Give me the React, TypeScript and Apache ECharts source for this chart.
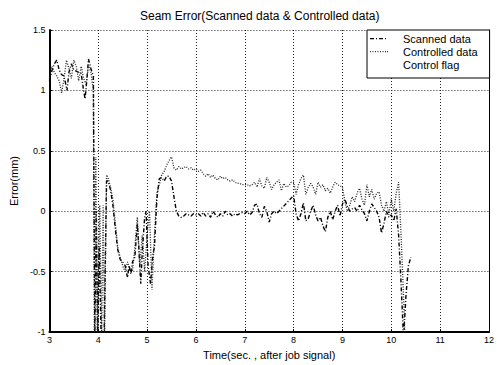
import React, { useEffect, useRef } from "react";
import * as echarts from "echarts";

const titleText = "Seam Error(Scanned data & Controlled data)";
const xName = "Time(sec. , after job signal)";
const yName = "Error(mm)";
const legendNames = ["Scanned data", "Controlled data", "Control flag"];

const scannedTime = [3.0, 3.05, 3.1, 3.15, 3.2, 3.25, 3.3, 3.36, 3.4, 3.45, 3.5, 3.55, 3.6, 3.65, 3.7, 3.73, 3.77, 3.8, 3.85, 3.9, 3.93, 3.96, 3.99, 4.02, 4.06, 4.12, 4.17, 4.2, 4.25, 4.3, 4.35, 4.4, 4.45, 4.5, 4.55, 4.6, 4.63, 4.67, 4.7, 4.75, 4.8, 4.83, 4.87, 4.9, 4.95, 4.98, 5.02, 5.07, 5.12, 5.15, 5.2, 5.25, 5.3, 5.35, 5.4, 5.45, 5.5, 5.55, 5.6, 5.65, 5.7, 5.75, 5.8, 5.85, 5.9, 5.95, 6.0, 6.05, 6.1, 6.15, 6.2, 6.25, 6.3, 6.35, 6.4, 6.45, 6.5, 6.55, 6.6, 6.65, 6.7, 6.75, 6.8, 6.85, 6.9, 6.95, 7.0, 7.05, 7.1, 7.15, 7.2, 7.25, 7.3, 7.35, 7.4, 7.45, 7.5, 7.55, 7.6, 7.65, 7.7, 8.0, 8.05, 8.1, 8.15, 8.2, 8.25, 8.3, 8.35, 8.4, 8.45, 8.5, 8.55, 8.6, 8.65, 8.7, 8.75, 8.8, 8.85, 8.9, 8.95, 9.0, 9.05, 9.1, 9.15, 9.2, 9.25, 9.3, 9.35, 9.4, 9.45, 9.5, 9.55, 9.6, 9.65, 9.7, 9.75, 9.8, 9.85, 9.9, 9.95, 10.0, 10.05, 10.1, 10.15, 10.2, 10.25, 10.3, 10.35, 10.4];
const scannedValue = [1.08, 1.16, 1.22, 1.25, 1.17, 1.13, 1.12, 1.0, 1.15, 1.22, 1.17, 1.16, 1.15, 1.14, 1.0, 0.93, 1.1, 1.26, 1.18, 1.12, -1.05, 0.0, -1.05, -0.3, -1.05, -1.05, 0.25, 0.25, 0.18, 0.05, -0.15, -0.32, -0.4, -0.42, -0.45, -0.55, -0.45, -0.52, -0.42, -0.38, -0.1, -0.3, -0.6, -0.35, -0.05, 0.0, -0.45, -0.6, -0.35, -0.3, 0.1, 0.27, 0.28, 0.25, 0.29, 0.29, 0.25, 0.12, 0.0, -0.04, -0.05, -0.04, -0.02, -0.03, -0.04, -0.02, -0.03, -0.02, -0.04, -0.01, -0.04, -0.02, -0.05, 0.0, -0.03, -0.05, -0.02, -0.04, 0.0, -0.03, -0.02, -0.04, -0.02, -0.03, -0.02, -0.01, -0.02, 0.0, -0.03, -0.01, 0.05, 0.06, -0.02, -0.05, 0.04, 0.0, -0.09, -0.02, 0.0, -0.02, 0.0, 0.13, -0.02, -0.08, -0.02, 0.07, -0.08, -0.06, 0.0, 0.05, -0.03, -0.08, -0.05, -0.12, -0.17, -0.05, 0.0, -0.07, 0.0, 0.05, -0.04, 0.06, 0.1, 0.04, 0.0, 0.02, 0.03, 0.0, 0.05, 0.01, -0.02, -0.08, 0.0, 0.06, 0.03, 0.0, -0.05, -0.18, -0.1, 0.0, -0.05, -0.03, -0.08, 0.02, -0.2, -0.6, -1.05, -0.7, -0.45, -0.38];

const controlledTime = [3.0, 3.05, 3.1, 3.15, 3.2, 3.25, 3.3, 3.35, 3.4, 3.45, 3.5, 3.55, 3.6, 3.65, 3.7, 3.75, 3.8, 3.85, 3.9, 3.92, 3.95, 3.98, 4.03, 4.07, 4.1, 4.13, 4.17, 4.2, 4.25, 4.3, 4.35, 4.4, 4.45, 4.5, 4.55, 4.6, 4.65, 4.7, 4.75, 4.8, 4.85, 4.9, 4.95, 5.0, 5.05, 5.1, 5.15, 5.2, 5.25, 5.3, 5.35, 5.4, 5.45, 5.5, 5.55, 5.6, 5.65, 5.7, 5.75, 5.8, 5.85, 5.9, 5.95, 6.0, 6.05, 6.1, 6.15, 6.2, 6.25, 6.3, 6.35, 6.4, 6.45, 6.5, 6.55, 6.6, 6.65, 6.7, 6.75, 6.8, 6.85, 6.9, 6.95, 7.0, 7.05, 7.1, 7.15, 7.2, 7.25, 7.3, 7.35, 7.4, 7.45, 7.5, 7.55, 7.6, 7.65, 7.7, 7.75, 7.8, 7.85, 7.9, 7.95, 8.0, 8.05, 8.1, 8.15, 8.2, 8.25, 8.3, 8.35, 8.4, 8.45, 8.5, 8.55, 8.6, 8.65, 8.7, 8.75, 8.8, 8.85, 8.9, 8.95, 9.0, 9.05, 9.1, 9.15, 9.2, 9.25, 9.3, 9.35, 9.4, 9.45, 9.5, 9.55, 9.6, 9.65, 9.7, 9.75, 9.8, 9.85, 9.9, 9.95, 10.0, 10.05, 10.1, 10.15, 10.2, 10.25, 10.28];
const controlledValue = [1.1, 1.2, 1.15, 1.12, 1.08, 0.98, 1.1, 1.25, 1.18, 1.1, 1.25, 1.2, 1.08, 1.2, 1.1, 1.05, 1.2, 1.15, 1.0, -1.05, 0.45, -1.05, 0.05, -1.05, 0.05, -1.05, 0.3, 0.28, 0.2, 0.1, -0.1, -0.3, -0.38, -0.45, -0.5, -0.42, -0.48, -0.5, -0.3, -0.05, -0.45, -0.2, -0.5, -0.2, 0.0, -0.65, -0.2, 0.15, 0.22, 0.3, 0.33, 0.38, 0.42, 0.45, 0.36, 0.34, 0.37, 0.35, 0.36, 0.37, 0.35, 0.36, 0.34, 0.35, 0.33, 0.34, 0.31, 0.29, 0.31, 0.28, 0.3, 0.27, 0.26, 0.29, 0.27, 0.28, 0.26, 0.25, 0.26, 0.24, 0.23, 0.23, 0.22, 0.22, 0.22, 0.21, 0.22, 0.24, 0.2, 0.27, 0.21, 0.19, 0.28, 0.24, 0.18, 0.22, 0.24, 0.26, 0.17, 0.23, 0.2, 0.21, 0.24, 0.24, 0.14, 0.22, 0.27, 0.3, 0.14, 0.2, 0.23, 0.2, 0.14, 0.24, 0.2, 0.22, 0.17, 0.19, 0.15, 0.2, 0.24, 0.22, 0.21, 0.2, 0.08, 0.0, 0.05, 0.12, 0.08, 0.15, 0.19, 0.1, 0.05, 0.22, 0.12, 0.18, 0.1, 0.15, 0.16, 0.05, 0.0, 0.08, -0.03, 0.1, 0.0, 0.15, 0.24, -0.2, -0.7, -1.05];

const flagTime: number[] = [];
const flagValue: number[] = [];

const zip = (t: number[], v: number[]) => t.map((x, i) => [x, v[i]]);

// legend icons: an invisible vertical stroke sets the 18x10 box, thin rects draw the pattern
const dashDotIcon = "path://M0,0L0,10M0,4.5h4v1.2h-4zM6,4.5h1v1.2h-1zM9,4.5h4v1.2h-4zM15,4.5h1v1.2h-1zM18,0L18,10";
const dottedIcon = "path://M0,0L0,10M0,4.5h1v1.2h-1zM2.5,4.5h1v1.2h-1zM5,4.5h1v1.2h-1zM7.5,4.5h1v1.2h-1zM10,4.5h1v1.2h-1zM12.5,4.5h1v1.2h-1zM15,4.5h1v1.2h-1zM17,4.5h1v1.2h-1zM18,0L18,10";

export default function App() {
  const ref = useRef<HTMLDivElement>(null);
  useEffect(() => {
    if (!ref.current) return;
    const chart = echarts.init(ref.current, null, { renderer: "svg" });
    const font = "Liberation Sans, Arial, sans-serif";
    chart.setOption({
      animation: false,
      backgroundColor: "#fff",
      textStyle: { fontFamily: font },
      title: {
        text: titleText,
        left: 140,
        top: 10,
        padding: 0,
        textStyle: { fontSize: 12, fontWeight: "normal", color: "#000", fontFamily: font },
      },
      legend: {
        data: [
          { name: legendNames[0], icon: dashDotIcon, itemStyle: { color: "#000" } },
          { name: legendNames[1], icon: dottedIcon, itemStyle: { color: "#333" } },
          { name: legendNames[2], icon: "rect", itemStyle: { color: "#fff", opacity: 0 } },
        ],
        orient: "vertical",
        left: 367,
        top: 30,
        backgroundColor: "#fff",
        borderColor: "#000",
        borderWidth: 1,
        padding: [3, 12, 8, 3],
        itemGap: 2,
        itemWidth: 18,
        itemHeight: 10,
        textStyle: { fontSize: 11, color: "#000", fontFamily: font, padding: [0, 0, 0, 10] },
      },
      grid: { left: 39, right: 2, top: 30, bottom: 25, containLabel: false },
      xAxis: {
        type: "value",
        min: 3,
        max: 12,
        interval: 1,
        name: xName,
        nameLocation: "middle",
        nameGap: 14,
        nameTextStyle: { fontSize: 11, color: "#000", fontFamily: font },
        axisLine: { onZero: false, lineStyle: { color: "#000", width: 2 } },
        axisTick: { inside: true, length: 3, lineStyle: { color: "#000" } },
        axisLabel: { fontSize: 9, color: "#000", margin: 3, fontFamily: font },
        splitLine: { show: true, lineStyle: { color: "#222", type: [1, 2], width: 1 } },
      },
      yAxis: [
        {
          type: "value",
          min: -1,
          max: 1.5,
          interval: 0.5,
          name: yName,
          nameLocation: "middle",
          nameGap: 29,
          nameTextStyle: { fontSize: 11, color: "#000", fontFamily: font },
          axisLine: { show: true, onZero: false, lineStyle: { color: "#000", width: 2 } },
          axisTick: { show: true, inside: true, length: 3, lineStyle: { color: "#000" } },
          axisLabel: { fontSize: 9, color: "#000", margin: 4, fontFamily: font },
          splitLine: { show: true, lineStyle: { color: "#222", type: [1, 2], width: 1 } },
        },
        {
          type: "value",
          min: -1,
          max: 1.5,
          interval: 0.5,
          position: "right",
          axisLine: { show: true, onZero: false, lineStyle: { color: "#000", width: 1 } },
          axisTick: { show: false },
          axisLabel: { show: false },
          splitLine: { show: false },
        },
      ],
      series: [
        {
          name: legendNames[0],
          type: "line",
          data: zip(scannedTime, scannedValue),
          symbol: "none",
          clip: true,
          lineStyle: { color: "#000", width: 1.4, type: [4, 2, 1, 2] },
          itemStyle: { color: "#000" },
        },
        {
          name: legendNames[1],
          type: "line",
          data: zip(controlledTime, controlledValue),
          symbol: "none",
          clip: true,
          lineStyle: { color: "#222", width: 1.3, type: [1, 1.5] },
          itemStyle: { color: "#333" },
        },
        {
          name: legendNames[2],
          type: "line",
          data: zip(flagTime, flagValue),
          symbol: "none",
          lineStyle: { color: "#fff", width: 1 },
          itemStyle: { color: "#fff" },
        },
      ],
    });
    return () => chart.dispose();
  }, []);
  return <div ref={ref} style={{ width: 497, height: 365, position: "absolute", left: 0, top: 0 }} />;
}
